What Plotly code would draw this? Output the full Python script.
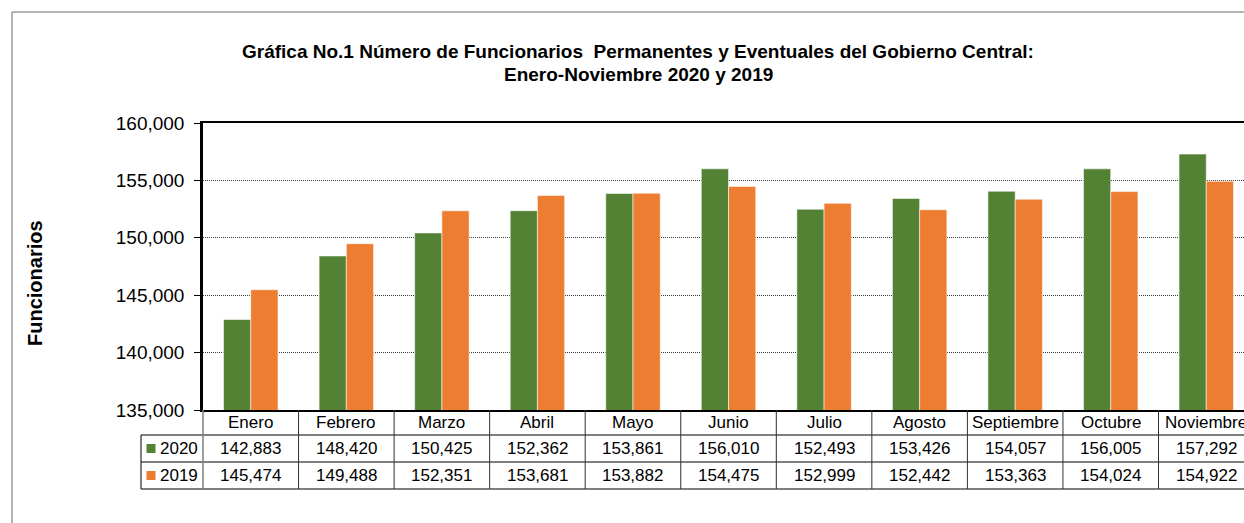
import plotly.graph_objects as go

# ---------------- data ----------------
categories = ["Enero", "Febrero", "Marzo", "Abril", "Mayo", "Junio",
              "Julio", "Agosto", "Septiembre", "Octubre", "Noviembre"]
series_names = ["2020", "2019"]
values_2020 = [142883, 148420, 150425, 152362, 153861, 156010,
               152493, 153426, 154057, 156005, 157292]
values_2019 = [145474, 149488, 152351, 153681, 153882, 154475,
               152999, 152442, 153363, 154024, 154922]
y_ticks = [135000, 140000, 145000, 150000, 155000, 160000]
title_lines = ["Gráfica No.1 Número de Funcionarios \u00a0Permanentes y Eventuales del Gobierno Central:",
               "Enero-Noviembre 2020 y 2019"]
y_title = "Funcionarios"

GREEN = "#548235"
ORANGE = "#ED7D31"
colors = [GREEN, ORANGE]
series_values = [values_2020, values_2019]

# ---------------- layout geometry (pixels) ----------------
W, H = 1244, 523
PL, PT, PB = 203, 123, 410          # plot left / top / bottom pixel
PR = W                              # plot right (chart is cut off at the window edge)
CAT_W = 95.55                       # pixel width of one category
PW, PH = PR - PL, PB - PT

def px(X):
    return (X - PL) / PW

def py(Y):
    return (PB - Y) / PH

FONT = "Liberation Sans, Arial, sans-serif"

fig = go.Figure()
for name, vals, col in zip(series_names, series_values, colors):
    fig.add_trace(go.Bar(
        x=list(range(len(categories))), y=vals, name=name,
        marker=dict(color=col, line=dict(color="rgba(255,255,255,0.55)", width=1)),
        hoverinfo="skip",
    ))

x_max = -0.5 + PW / CAT_W

fig.update_layout(
    width=W, height=H, autosize=False,
    margin=dict(l=PL, r=W - PR, t=PT, b=H - PB, pad=0),
    paper_bgcolor="white", plot_bgcolor="white",
    barmode="group", bargap=0.43, bargroupgap=0,
    showlegend=False,
    font=dict(family=FONT, color="black"),
    xaxis=dict(range=[-0.5, x_max], showticklabels=False, ticks="",
               showgrid=False, zeroline=False,
               showline=True, linecolor="black", linewidth=2, mirror=True),
    yaxis=dict(range=[y_ticks[0], y_ticks[-1]], tickvals=y_ticks,
               tickformat=",", ticks="outside", ticklen=6, tickcolor="black",
               tickwidth=1, tickfont=dict(size=19, family=FONT, color="black"),
               showgrid=True, gridcolor="#3a3a3a", gridwidth=1, griddash="1px,1px",
               zeroline=False, showline=True, linecolor="black", linewidth=2.5,
               ticklabelstandoff=6),
)

shapes = []
annotations = []

# outer chart border
shapes.append(dict(type="rect", xref="paper", yref="paper",
                   x0=px(12), x1=px(W + 20), y0=py(H + 20), y1=py(12),
                   line=dict(color="#6a6a6a", width=1), fillcolor="rgba(0,0,0,0)",
                   layer="below"))

# title
title_y = [51.5, 74.5]
for t, yy in zip(title_lines, title_y):
    annotations.append(dict(text="<b>%s</b>" % t, xref="paper", yref="paper",
                            x=px(638), y=py(yy), xanchor="center", yanchor="middle",
                            showarrow=False, font=dict(size=19, family=FONT, color="black")))

# y axis title
annotations.append(dict(text="<b>%s</b>" % y_title, xref="paper", yref="paper",
                        x=px(35), y=py(283), xanchor="center", yanchor="middle",
                        textangle=-90, showarrow=False,
                        font=dict(size=20, family=FONT, color="black")))

# ---------------- data table ----------------
ROW_H0, ROW_H1, ROW_H2, ROW_H3 = 410, 435, 462, 489
LEG_L = 141
LINE_C = "#303030"
# horizontal lines
for yy in [ROW_H1, ROW_H2, ROW_H3]:
    shapes.append(dict(type="line", xref="paper", yref="paper",
                       x0=px(LEG_L), x1=px(W + 20), y0=py(yy), y1=py(yy),
                       line=dict(color="black", width=1)))
# legend column left border
shapes.append(dict(type="line", xref="paper", yref="paper",
                   x0=px(LEG_L), x1=px(LEG_L), y0=py(ROW_H1), y1=py(ROW_H3),
                   line=dict(color="black", width=1)))
# axis continuation line
shapes.append(dict(type="line", xref="paper", yref="paper",
                   x0=px(PL), x1=px(PL), y0=py(ROW_H0), y1=py(ROW_H3),
                   line=dict(color="#808080", width=1.5)))
# category separators
for i in range(len(categories)):
    xx = PL + (i + 1) * CAT_W
    if xx > W + 5:
        break
    shapes.append(dict(type="line", xref="paper", yref="paper",
                       x0=px(xx), x1=px(xx), y0=py(ROW_H0), y1=py(ROW_H3),
                       line=dict(color=LINE_C, width=1)))

row_centers = [(ROW_H0 + ROW_H1) / 2, (ROW_H1 + ROW_H2) / 2, (ROW_H2 + ROW_H3) / 2]
TFONT = dict(size=17, family=FONT, color="black")
for i, c in enumerate(categories):
    annotations.append(dict(text=c, xref="x", yref="paper", x=i, y=py(row_centers[0]),
                            xanchor="center", yanchor="middle", showarrow=False, font=TFONT))
for r, vals in enumerate(series_values):
    for i, v in enumerate(vals):
        annotations.append(dict(text=f"{v:,}", xref="x", yref="paper", x=i,
                                y=py(row_centers[r + 1]), xanchor="center", yanchor="middle",
                                showarrow=False, font=TFONT))
    # legend key
    yc = row_centers[r + 1]
    shapes.append(dict(type="rect", xref="paper", yref="paper",
                       x0=px(146.5), x1=px(155.5), y0=py(yc + 4.5), y1=py(yc - 4.5),
                       line=dict(width=0), fillcolor=colors[r]))
    annotations.append(dict(text=series_names[r], xref="paper", yref="paper",
                            x=px(157.5), y=py(yc), xanchor="left", yanchor="middle",
                            showarrow=False, font=TFONT))

fig.update_layout(shapes=shapes, annotations=annotations)

fig.write_html("out.html", config={"displayModeBar": False},
               post_script="document.body.style.margin='0';document.body.style.overflow='hidden';")
